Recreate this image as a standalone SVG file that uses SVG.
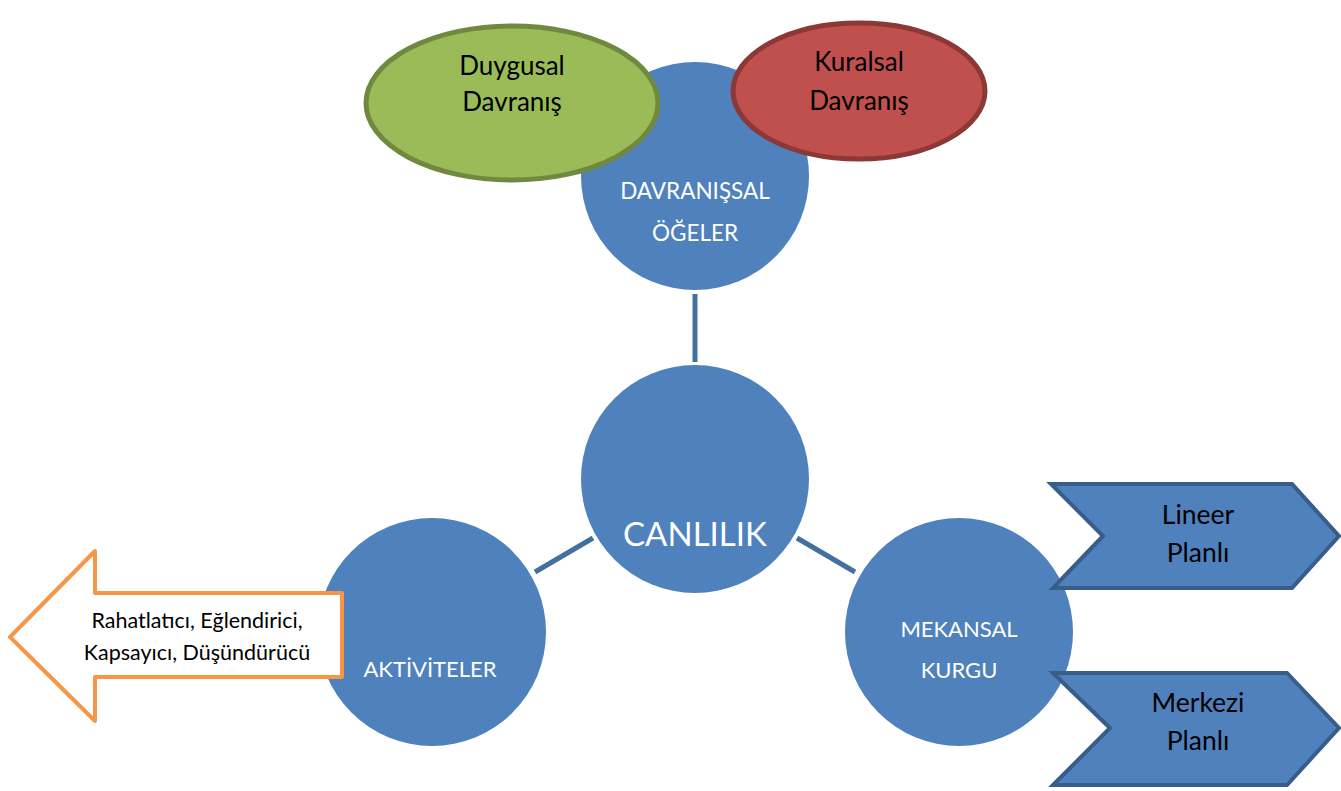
<svg xmlns="http://www.w3.org/2000/svg" width="1341" height="791" viewBox="0 0 1341 791">
<style>
.c{fill:#4F81BD}
.lbl{font-family:Lato,"Open Sans","Liberation Sans",sans-serif;text-anchor:middle}
.w{fill:#FFFFFF}
.k{fill:#000000}
.conn line{stroke:#41719C;stroke-width:5}
.chev{fill:#4F81BD;stroke:#385D8A;stroke-width:4;stroke-linejoin:miter}
</style>
<rect width="1341" height="791" fill="#FFFFFF"/>
<g id="connectors" class="conn">
<line x1="695" y1="294" x2="695" y2="362"/>
<line x1="535" y1="572" x2="593" y2="538"/>
<line x1="797" y1="538" x2="855" y2="572"/>
</g>
<g id="davranissal">
<circle class="c" cx="695" cy="176" r="114"/>
<text class="lbl w" x="695" y="199" font-size="22.5">DAVRANIŞSAL</text>
<text class="lbl w" x="695" y="241" font-size="22.5">ÖĞELER</text>
</g>
<g id="duygusal">
<ellipse cx="512" cy="103" rx="146" ry="77" fill="#9BBB59" stroke="#71893F" stroke-width="5"/>
<text class="lbl k" x="512" y="75" font-size="26">Duygusal</text>
<text class="lbl k" x="512" y="111" font-size="26">Davranış</text>
</g>
<g id="kuralsal">
<ellipse cx="859" cy="91" rx="126" ry="68" fill="#C0504D" stroke="#8C3836" stroke-width="5"/>
<text class="lbl k" x="859" y="71" font-size="26">Kuralsal</text>
<text class="lbl k" x="859" y="110" font-size="26">Davranış</text>
</g>
<g id="canlilik">
<circle class="c" cx="695" cy="479" r="114"/>
<text class="lbl w" x="695" y="546" font-size="33">CANLILIK</text>
</g>
<g id="aktiviteler">
<circle class="c" cx="432" cy="632" r="114"/>
<text class="lbl w" x="430" y="677" font-size="22">AKTİVİTELER</text>
</g>
<g id="mekansal">
<circle class="c" cx="959" cy="632" r="114"/>
<text class="lbl w" x="959" y="637" font-size="22">MEKANSAL</text>
<text class="lbl w" x="959" y="678" font-size="22">KURGU</text>
</g>
<g id="arrow-left">
<polygon points="10,637 95,551 95,593 342,593 342,677 95,677 95,721" fill="#FFFFFF" stroke="#F79646" stroke-width="4" stroke-linejoin="round"/>
<text class="lbl k" x="197" y="628" font-size="21.5">Rahatlatıcı, Eğlendirici,</text>
<text class="lbl k" x="197" y="660" font-size="21.5">Kapsayıcı, Düşündürücü</text>
</g>
<g id="lineer">
<polygon class="chev" points="1051,484 1292,484 1339,536 1292,588 1053,588 1103,536"/>
<text class="lbl k" x="1198" y="524" font-size="26.5">Lineer</text>
<text class="lbl k" x="1198" y="562" font-size="26.5">Planlı</text>
</g>
<g id="merkezi">
<polygon class="chev" points="1053,673 1287,673 1339,728 1287,785 1053,785 1110,728"/>
<text class="lbl k" x="1198" y="712" font-size="26.5">Merkezi</text>
<text class="lbl k" x="1198" y="750" font-size="26.5">Planlı</text>
</g>
</svg>
